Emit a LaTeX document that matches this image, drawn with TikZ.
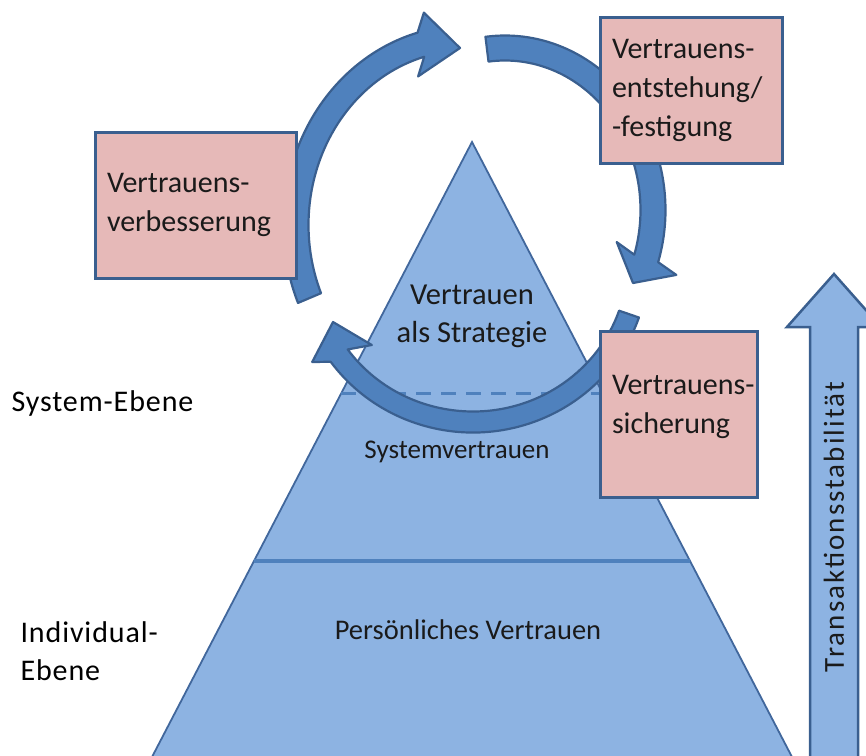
\documentclass[tikz,border=0pt]{standalone}
\usepackage{fontspec}
\setmainfont{Carlito}
\newfontfamily\widecarlito[LetterSpace=3]{Carlito}
\newfontfamily\stabfont[LetterSpace=7]{Carlito}
\usetikzlibrary{calc}

\definecolor{ringblue}{HTML}{4F81BD}
\definecolor{edgeblue}{HTML}{3A5F8F}
\definecolor{pyrblue}{HTML}{8DB3E2}
\definecolor{pyredge}{HTML}{41679C}
\definecolor{boxrose}{HTML}{E6B9B8}
\definecolor{ink}{HTML}{1A1A1A}

% curved arrow along an ellipse:
% #1,#2 centre, #3,#4 radii of the mid line, #5 tail angle, #6 angle where the head starts,
% #7 tip, #8 middle of the head base, #9 half width of the head; \bandhw = half band width
\def\bandhw{12.5}
\newcommand\ringarrow[9]{%
  \pgfmathsetmacro\arrRxo{#3+\bandhw}\pgfmathsetmacro\arrRyo{#4+\bandhw}%
  \pgfmathsetmacro\arrRxi{#3-\bandhw}\pgfmathsetmacro\arrRyi{#4-\bandhw}%
  \coordinate (hc) at (#1,#2);
  \coordinate (htip) at (#7);
  \coordinate (hbase) at (#8);
  \filldraw[ringpiece]
    ($(hc)+({\arrRxo*cos(#5)},{\arrRyo*sin(#5)})$)
    arc[start angle=#5, end angle=#6, x radius=\arrRxo, y radius=\arrRyo]
    -- ($(hbase)!#9pt!90:(htip)$)
    -- (htip)
    -- ($(hbase)!#9pt!-90:(htip)$)
    -- ($(hc)+({\arrRxi*cos(#6)},{\arrRyi*sin(#6)})$)
    arc[start angle=#6, end angle=#5, x radius=\arrRxi, y radius=\arrRyi]
    -- cycle;}

\begin{document}
\begin{tikzpicture}[x=1pt,y=-1pt,
  ringpiece/.style={fill=ringblue, draw=edgeblue, line width=2.2pt, line join=round},
  phasebox/.style={draw=edgeblue, fill=boxrose, line width=3pt, align=left,
    inner xsep=12pt, text=ink, font=\fontsize{30}{39}\selectfont},
  layertext/.style={text=ink, align=center, font=\fontsize{27}{38}\selectfont},
  sidetext/.style={text=black, align=left, anchor=west, font=\fontsize{30}{38}\widecarlito}]

\useasboundingbox (0,0) rectangle (866,755);
\clip (0,0) rectangle (866,755);

% pyramid of trust layers
\coordinate (apex) at (472,142);
\coordinate (bl) at (152,757);
\coordinate (br) at (792,757);
\filldraw[fill=pyrblue, draw=pyredge, line width=1.8pt] (apex) -- (bl) -- (br) -- cycle;
\draw[ringblue, line width=4pt] ($(apex)!0.681!(bl)$) -- ($(apex)!0.681!(br)$);
\draw[ringblue, line width=3pt, dash pattern=on 15pt off 10pt]
  ($(apex)!0.4085!(bl)$) -- ($(apex)!0.4085!(br)$);

\node[layertext, font=\fontsize{30.5}{38}\selectfont] (strat) at (472,316) {Vertrauen\\als Strategie};
\node[layertext] (sys) at (457,452) {Systemvertrauen};
\node[layertext, font=\fontsize{28.5}{38}\selectfont] (pers) at (468,630) {Persönliches Vertrauen};

% cycle of trust phases
\ringarrow{466}{225}{170}{187}{157}{254.6}{460,48}{421,44.5}{32}
\ringarrow{505}{210}{148}{162}{263}{377.4}{633,283}{646.5,258.5}{34}
\def\bandhw{10.5}
\ringarrow{473}{262}{165}{160}{19}{144.2}{333,322}{342,353.5}{31}

\node[phasebox, minimum width=201pt, minimum height=146pt, text width=177pt]
  (verb) at (195.5,205) {Vertrauens-\\verbesserung};
\node[phasebox, minimum width=182pt, minimum height=146pt, text width=158pt]
  (entst) at (691,90) {Vertrauens-\\entstehung/\\-festigung};
\node[phasebox, minimum width=157pt, minimum height=166pt, text width=133pt]
  (sich) at (678.5,414) {\mbox{Vertrauens-}\\\mbox{sicherung}\par\vspace*{14pt}};

% level labels
\node[sidetext] (syslvl) at (8,403) {System-Ebene};
\node[sidetext] (indlvl) at (17,651) {Individual-\\Ebene};

% stability arrow
\filldraw[fill=pyrblue, draw=edgeblue, line width=2.5pt, line join=miter]
  (810,762) -- (810,327) -- (787,327) -- (834,274) -- (881,327) -- (858,327) -- (858,762) -- cycle;
\node[rotate=90, text=ink, font=\fontsize{29}{36}\stabfont] (stab) at (834,527) {Transaktionsstabilität};

\end{tikzpicture}
\end{document}
